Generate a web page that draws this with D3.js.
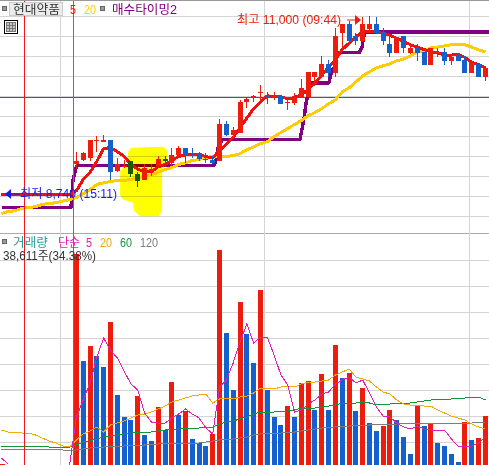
<!DOCTYPE html>
<html><head><meta charset="utf-8">
<script src="https://cdn.jsdelivr.net/npm/d3@7/dist/d3.min.js"></script>
<style>html,body{margin:0;padding:0;background:#fff;overflow:hidden}svg{display:block}text{font-family:"Liberation Sans","Noto Sans CJK KR",sans-serif;font-size:12.5px}</style>
</head><body><svg id="c" width="489" height="465"></svg>
<script>
// Candles, index 0..60 (prices in won)
const open  = [9140,9190,9220,9430,9420,9440,9060,9110,9180,9020,8940,9060,9120,9210,9160,9260,9340,9260,9280,9210,9200,9180,9650,9510,9540,9920,9980,10040,10010,9980,10000,9910,9910,9990,9990,10240,10240,10400,10290,10790,10900,10750,10690,10840,10900,10800,10650,10540,10750,10540,10600,10550,10390,10540,10550,10440,10500,10450,10290,10400,10240];
const close = [9180,9280,9440,9440,9440,9050,9150,9120,9020,8930,9100,9080,9210,9180,9260,9340,9260,9250,9210,9190,9160,9650,9510,9570,9920,9960,10000,10050,9980,10000,9900,9920,9990,10100,10300,10300,10400,10290,10750,10900,10690,10690,10900,10900,10790,10690,10540,10740,10600,10600,10540,10390,10600,10550,10440,10490,10440,10290,10410,10240,10350];
const high  = [9290,9300,9440,9490,9510,9440,9220,9200,9180,9050,9140,9140,9250,9240,9350,9370,9340,9340,9300,9280,9250,9710,9680,9610,9950,9990,10010,10140,10050,10050,10000,9950,10040,10210,10300,10300,10500,10450,10850,10900,10940,10790,10990,11000,10990,10850,10740,10740,10750,10660,10650,10550,10600,10600,10600,10490,10520,10500,10410,10400,10350];
const low   = [9080,9180,9180,9300,9420,8950,9040,9100,8980,8860,8940,9000,9100,9110,9120,9220,9160,9220,9180,9160,9140,9180,9490,9480,9540,9850,9920,9940,9900,9950,9900,9820,9890,9990,9990,10140,10220,10240,10240,10590,10660,10640,10680,10820,10790,10640,10490,10540,10540,10520,10440,10390,10390,10490,10390,10390,10440,10290,10290,10240,10190];
// Price moving averages; the first 11 values belong to the previous session (index -11..-1)
const ma5  = [8760,8760,8760,8760,8760,8760,8760,8760,8760,8760,8760,
  8810,8950,9040,9180,9340,9350,9300,9240,9140,9080,9050,9050,9110,9140,9190,9240,9260,9260,9260,9240,9220,9320,9390,9480,9600,9720,9840,9920,10000,9990,9990,9960,9980,10010,10080,10160,10260,10360,10450,10580,10660,10740,10800,10810,10800,10780,10760,10720,10680,10640,10610,10580,10550,10540,10510,10510,10520,10480,10420,10390,10350];
const ma20 = [8525,8550,8560,8590,8600,8610,8640,8650,8660,8680,8700,
  8725,8775,8825,8890,8910,8925,8940,8940,8950,8975,8990,9010,9040,9075,9100,9140,9160,9190,9200,9225,9240,9240,9240,9250,9275,9325,9360,9400,9425,9490,9540,9590,9640,9690,9750,9790,9840,9900,9950,10050,10100,10175,10250,10300,10350,10375,10400,10440,10460,10500,10550,10560,10600,10610,10625,10640,10640,10640,10610,10575,10550];
// Buy-timing step line: bar index and price
const timingIdx   = [-10.9,-0.8,-0.5,0,0.1,20.2,20.5,20.8,21.4,32.8,33.4,33.7,34,34.3,34.6,37,37.3,37.5,37.9,38.2,38.6,41.5,41.9,42.1,42.4,60.6];
const timingPrice = [8600,8600,8950,9110,9125,9125,9200,9360,9450,9450,9725,9910,10010,10150,10160,10160,10250,10330,10350,10530,10540,10540,10610,10730,10800,10800];
// Hand-drawn highlighter blob: bar index and price
const blobIdx   = [8.02,12.72,13.3,13.3,12.57,12.57,11.98,9.34,8.46,8.32,6.85,6.41,6.41,6.85,7.58,7.58];
const blobPrice = [9350,9360,9310,9150,9080,8550,8490,8490,8560,8660,8700,8750,9050,9100,9110,9300];
const priceTicks = [8500,8750,9000,9250,9500,9750,10000,10250,10500,10750,11000];
const refPrice = 9985;
// Volume, in lots of 770 shares; prevVolume is the only visible earlier bar
const prevVolume = [1];
const volume = [211,104,119,109,98,143,70,48,45,69,30,24,58,35,83,50,54,26,22,19,31,215,132,75,163,131,102,175,75,48,40,59,48,82,84,55,91,55,120,87,92,54,77,42,34,39,55,45,28,11,60,39,42,22,19,11,3,43,25,27,49];
const vma5 = [7,1,null,null,null,null,null,null,null,null,0,
  48,65,82,108,127,115,107,94,81,75,52,43,42,42,47,51,56,51,47,37,31,78,85,102,123,141,122,128,128,110,90,80,53,55,61,65,71,73,81,85,88,82,85,72,58,49,48,42,38,36,39,36,35,35,35,26,19,19,19,22,28];
const vma20 = [35,33,33,32,32,30,27,24,22,19,18,
  25,31,34,38,33,40,42,44,47,50,51,53,56,59,63,65,67,69,70,71,62,66,67,66,68,69,72,77,77,76,78,79,78,81,83,83,84,85,90,93,96,88,86,84,78,73,71,65,61,60,60,59,59,55,52,49,47,45,41,38,36];
const vma60 = [19,19,19,19,19,19,19,18,18,18,18,
  20,23,24,26,28,29,30,31,32,33,33,33,34,35,36,36,37,37,37,38,38,41,43,44,46,48,51,53,53,53,54,54,55,57,57,57,58,59,60,62,62,62,63,62,60,61,61,62,62,62,63,64,65,66,66,66,67,67,68,68,65];
const vma120 = [16,16,16,16,16,16,16,16,16,15,15,
  15,16,17,18,18,19,19,19,20,20,20,21,21,22,22,22,22,22,22,23,24,25,26,26,27,28,30,31,32,32,32,33,33,34,35,36,37,38,38,39,39,40,40,40,41,41,41,41,42,42,42,42,42,42,42,42,42,42,42,43,43];
const volTicks = [23,49,75,101,127,153,179,205];
const volLabel = "38,611주(34.38%)";

const W=489,H=465,RED="#ee1c0c",BLUE="#1460cc",GRID="#d4d4d4";
const svg=d3.select("#c");
const x=d3.scaleLinear().domain([0,60]).range([76.4,485.4]);
const y=d3.scaleLinear().domain([8500,11000]).range([215.5,16]);
const v=d3.scaleLinear().domain([0,260]).range([465,205]);
const left=i=>Math.round(x(i)-2.5);

// frame
svg.append("rect").attr("x",0).attr("y",0).attr("width",W).attr("height",1).attr("fill","#999");
svg.append("rect").attr("x",0).attr("y",233).attr("width",W).attr("height",1).attr("fill","#aaa");
// grids through axes
const pg=svg.append("g").attr("shape-rendering","crispEdges")
  .call(d3.axisRight(y).tickValues(priceTicks).tickSize(W).tickFormat(""));
const vg=svg.append("g").attr("shape-rendering","crispEdges")
  .call(d3.axisRight(v).tickValues(volTicks).tickSize(W).tickFormat(""));
[pg,vg].forEach(g=>{g.select(".domain").remove();g.selectAll("line").attr("stroke",GRID);});
[60,264,469].forEach(px=>svg.append("rect").attr("x",px).attr("y",1).attr("width",1).attr("height",H).attr("fill",GRID));
svg.append("rect").attr("x",0).attr("y",Math.round(y(refPrice))).attr("width",W).attr("height",1).attr("fill","#d6202a");

// volume
const vols=volume.map((d,i)=>({i,d,up:i===0||d>volume[i-1]}));
prevVolume.forEach(d=>vols.push({i:-11,d,up:true}));
svg.append("g").attr("shape-rendering","crispEdges").selectAll("rect").data(vols).join("rect")
  .attr("x",d=>Math.max(0,left(d.i))).attr("width",5)
  .attr("y",d=>v(d.d)).attr("height",d=>v(0)-v(d.d))
  .attr("fill",d=>d.up?RED:BLUE);
const vline=d3.line().defined(d=>d!=null).x((d,i)=>x(i-11)).y(d=>v(d));
[[vma120,"#7d7d7d"],[vma60,"#12963c"],[vma20,"#f2a90c"],[vma5,"#e020b4"]].forEach(([s,c])=>
  svg.append("path").attr("d",vline(s)).attr("fill","none").attr("stroke",c).attr("stroke-width",1).attr("shape-rendering","crispEdges"));

// price lines
const thick=(d,c,w)=>svg.append("path").attr("d",d).attr("fill","none").attr("stroke",c).attr("stroke-width",w)
  .attr("stroke-linejoin","round").attr("shape-rendering","crispEdges");
thick(d3.line().x((d,i)=>x(timingIdx[i])).y(d=>y(d))(timingPrice),"#800080",3.4);
const pline=d3.line().x((d,i)=>x(i-11)).y(d=>y(d));
thick(pline(ma20),"#ffcc00",3);
thick(pline(ma5),"#f01010",3);

// candles
const cg=svg.append("g").attr("shape-rendering","crispEdges");
const color=i=>close[i]>=open[i]?RED:BLUE;
cg.selectAll("rect.w").data(d3.range(open.length)).join("rect").attr("class","w")
  .attr("x",i=>left(i)+2).attr("width",1)
  .attr("y",i=>y(high[i])).attr("height",i=>y(low[i])-y(high[i])).attr("fill",color);
cg.selectAll("rect.b").data(d3.range(open.length)).join("rect").attr("class","b")
  .attr("x",left).attr("width",5)
  .attr("y",i=>y(Math.max(open[i],close[i])))
  .attr("height",i=>Math.max(1,Math.abs(y(open[i])-y(close[i]))))
  .attr("fill",color);

// highlighter, multiplies over everything below it
svg.append("path").attr("d",d3.line().x((d,i)=>x(blobIdx[i])).y(d=>y(d))(blobPrice)+"Z")
  .attr("fill","#ffff00").style("mix-blend-mode","multiply");

// session markers
[24,73].forEach((px,k)=>svg.append("rect").attr("x",px).attr("y",1).attr("width",1).attr("height",H)
  .attr("fill",k?"#cf4a4a":"#f01818"));

// helpers
const label=(t,px,py,len,c)=>svg.append("text").attr("x",px).attr("y",py).attr("fill",c)
  .attr("textLength",len).attr("lengthAdjust","spacingAndGlyphs").text(t);
const sq=(px,py)=>svg.append("rect").attr("x",px+.5).attr("y",py+.5).attr("width",4).attr("height",4).attr("fill","#999").attr("stroke","#666");

// header
sq(2,6);
svg.append("rect").attr("x",9.5).attr("y",2.5).attr("width",53).attr("height",13).attr("fill","#ececec").attr("stroke","#ccc");
label("현대약품",13,13.5,47,"#333");
label("5",70,13.5,6,"#ee1c0c");
label("20",84,13.5,12,"#ffcc00");
sq(100,6);
label("매수타이밍2",112,13.5,65,"#800080");
// grid icon
svg.append("rect").attr("x",4.5).attr("y",20.5).attr("width",13).attr("height",13).attr("fill","#fff").attr("stroke","#000");
svg.append("rect").attr("x",6.5).attr("y",22.5).attr("width",9).attr("height",9).attr("fill","#c4c4c4").attr("stroke","#777");
[9,12].forEach(p=>svg.append("rect").attr("x",p).attr("y",23).attr("width",1).attr("height",8).attr("fill","#777"));
[25,28].forEach(p=>svg.append("rect").attr("x",7).attr("y",p).attr("width",8).attr("height",1).attr("fill","#777"));

// high / low notes
label("최고 11,000 (09:44)",237,24,104,"#ee1c0c");
const arrow=(x0,x1,yy,c,hx,tip)=>{
  svg.append("rect").attr("x",Math.min(x0,x1)).attr("y",yy-.5).attr("width",Math.abs(x1-x0)).attr("height",1).attr("fill",c);
  svg.append("path").attr("d",`M${tip},${yy}L${hx},${yy-5}L${hx},${yy+5}Z`).attr("fill",c);
};
arrow(347,357,20,"#ee1c0c",355,361);
arrow(6,20,194,"#1a1aee",11,5);
label("최저 8,740 (15:11)",20,198,97,"#1a1aee");

// volume header
sq(2,239);
label("거래량",13,247,35,"#2a9d9d");
label("단순",58,247,22,"#e020b4");
label("5",86,247,6,"#e020b4");
label("20",100,247,12,"#f2a90c");
label("60",120,247,12,"#12963c");
label("120",140,247,18,"#7d7d7d");
label(volLabel,3,260,93,"#333");
</script></body></html>
